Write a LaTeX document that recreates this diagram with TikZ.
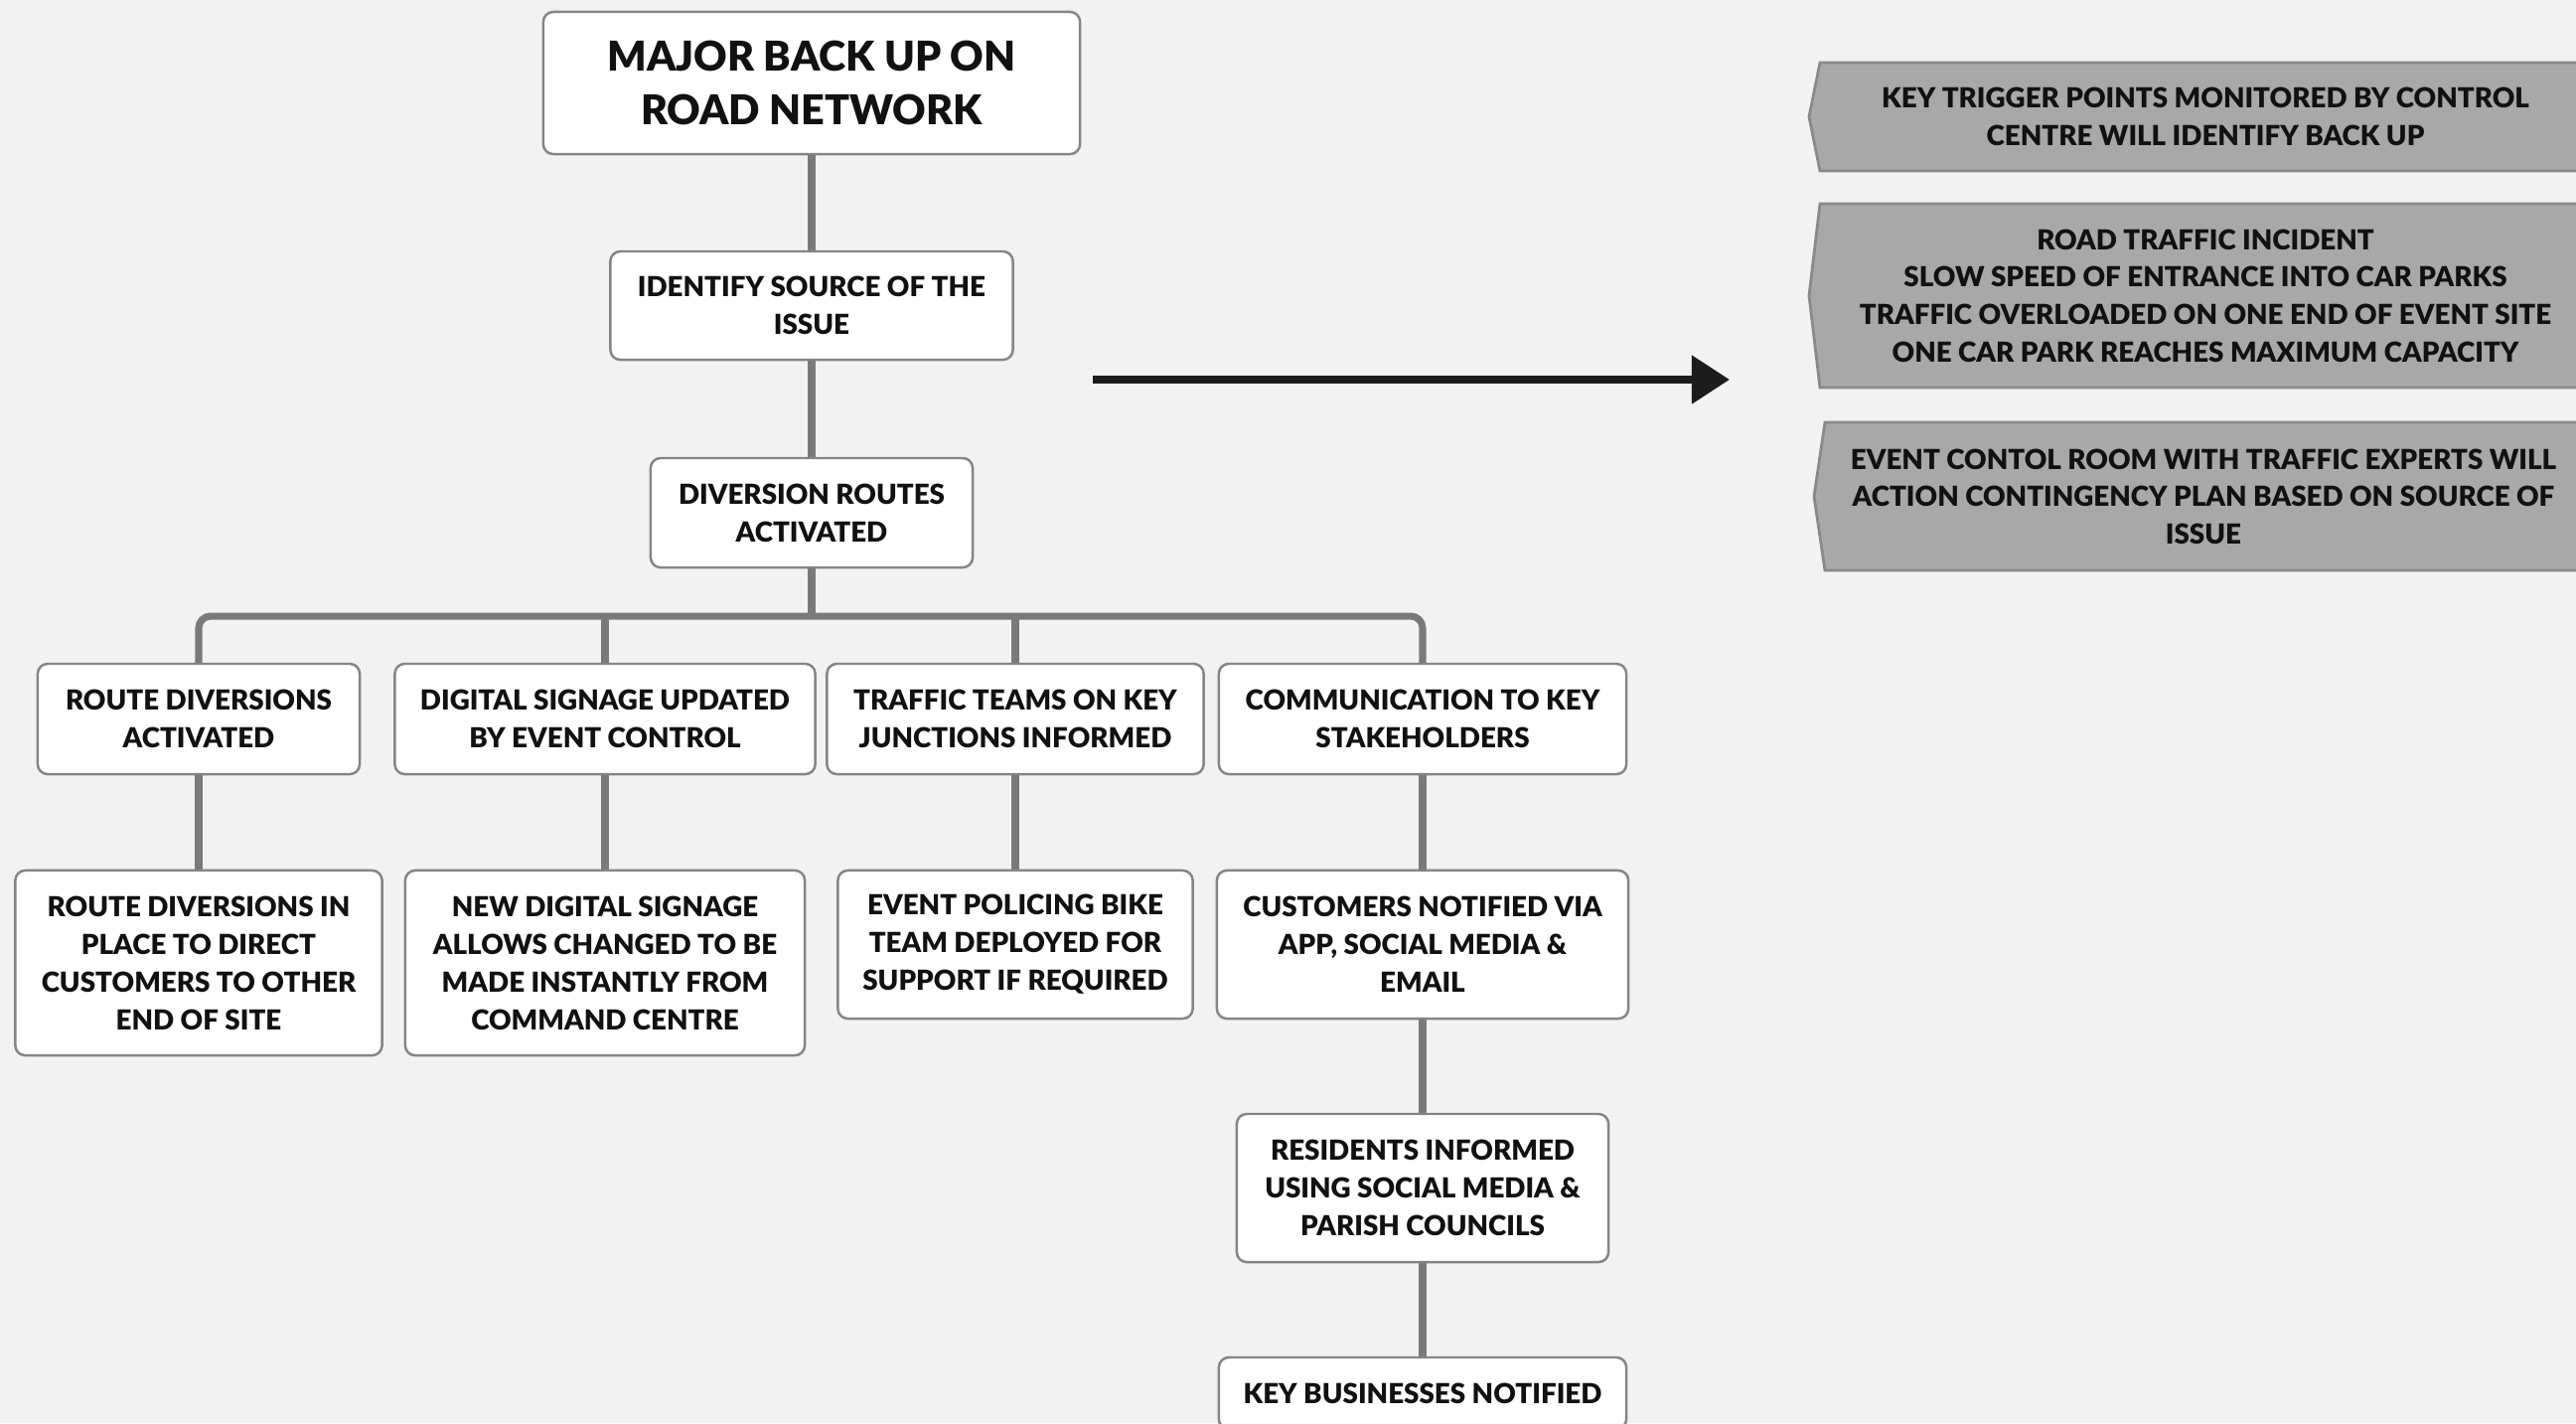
\documentclass[tikz,border=0pt]{standalone}
\usepackage{fontspec}
\setmainfont{Lato}[BoldFont={Lato Black}]
\usetikzlibrary{arrows.meta}
\definecolor{bg}{HTML}{F2F2F2}
\definecolor{boxline}{HTML}{858585}
\definecolor{connc}{HTML}{7A7A7A}
\definecolor{sigfill}{HTML}{A8A8A8}
\definecolor{sigline}{HTML}{8A8A8A}
\definecolor{arrc}{HTML}{1C1C1C}
\definecolor{txt}{HTML}{111111}
\begin{document}
\begin{tikzpicture}[x=0.01cm,y=-0.01cm,
  box/.style={draw=boxline, line width=0.7pt, fill=white, rounded corners=0.1cm,
    inner sep=0pt, align=center, text=txt,
    font=\bfseries\fontsize{7.9}{10.8}\selectfont},
  titlebox/.style={box, font=\bfseries\fontsize{11.75}{15.6}\selectfont},
  conn/.style={draw=connc, line width=2pt},
  sig/.style={draw=sigline, line width=0.8pt, fill=sigfill},
  sigtext/.style={inner sep=0pt, align=center, text=txt,
    font=\bfseries\fontsize{7.9}{10.7}\selectfont},
  arr/.style={draw=arrc, line width=2.3pt, -{Triangle[length=0.38cm,width=0.47cm]}}
]
\useasboundingbox (0,0) rectangle (2593,1432);
\fill[bg] (0,0) rectangle (2593,1432);
\clip (0,0) rectangle (2593,1432);

% main column
\node[titlebox, minimum width=5.40cm, minimum height=1.43cm] (top) at (817,83.5) {MAJOR BACK UP ON\\ROAD NETWORK};
\node[box, minimum width=4.05cm, minimum height=1.09cm] (ident) at (817,307.5) {IDENTIFY SOURCE OF THE\\ISSUE};
\node[box, minimum width=3.24cm, minimum height=1.10cm] (div) at (817,516) {DIVERSION ROUTES\\ACTIVATED};

% level 2
\node[box, minimum width=3.24cm, minimum height=1.11cm] (ra) at (200,723.5) {ROUTE DIVERSIONS\\ACTIVATED};
\node[box, minimum width=4.23cm, minimum height=1.11cm] (ds) at (609,723.5) {DIGITAL SIGNAGE UPDATED\\BY EVENT CONTROL};
\node[box, minimum width=3.79cm, minimum height=1.11cm] (tt) at (1022,723.5) {TRAFFIC TEAMS ON KEY\\JUNCTIONS INFORMED};
\node[box, minimum width=4.10cm, minimum height=1.11cm] (cs) at (1432,723.5) {COMMUNICATION TO KEY\\STAKEHOLDERS};

% level 3
\node[box, minimum width=3.69cm, minimum height=1.86cm] (rp) at (200,969) {ROUTE DIVERSIONS IN\\PLACE TO DIRECT\\CUSTOMERS TO OTHER\\END OF SITE};
\node[box, minimum width=4.02cm, minimum height=1.86cm] (nd) at (609,969) {NEW DIGITAL SIGNAGE\\ALLOWS CHANGED TO BE\\MADE INSTANTLY FROM\\COMMAND CENTRE};
\node[box, minimum width=3.57cm, minimum height=1.49cm] (ep) at (1022,950.5) {EVENT POLICING BIKE\\TEAM DEPLOYED FOR\\SUPPORT IF REQUIRED};
\node[box, minimum width=4.14cm, minimum height=1.49cm] (cn) at (1432,950.5) {CUSTOMERS NOTIFIED VIA\\APP, SOCIAL MEDIA \&\\EMAIL};
\node[box, minimum width=3.74cm, minimum height=1.49cm] (ri) at (1432,1195.5) {RESIDENTS INFORMED\\USING SOCIAL MEDIA \&\\PARISH COUNCILS};
\node[box, minimum width=4.10cm, minimum height=0.72cm] (kb) at (1432,1402) {KEY BUSINESSES NOTIFIED};

% connectors
\coordinate (bus) at (817,620);
\draw[conn] (top.south) -- (ident.north);
\draw[conn] (ident.south) -- (div.north);
\draw[conn] (div.south) -- (bus);
\draw[conn, rounded corners=0.12cm] (ra.north) |- (bus) -| (cs.north);
\draw[conn] (ds.north) -- (ds.north |- bus);
\draw[conn] (tt.north) -- (tt.north |- bus);
\draw[conn] (ra.south) -- (rp.north);
\draw[conn] (ds.south) -- (nd.north);
\draw[conn] (tt.south) -- (ep.north);
\draw[conn] (cs.south) -- (cn.north);
\draw[conn] (cn.south) -- (ri.north);
\draw[conn] (ri.south) -- (kb.north);

% arrow
\coordinate (aS) at (1100,382);
\coordinate (aE) at (1741,382);
\draw[arr] (aS) -- (aE);

% right grey panels
\draw[sig] (1832,63) -- (2620,63) -- (2620,172) -- (1832,172) -- (1821,117.5) -- cycle;
\node[sigtext] (s1) at (2220,117.5) {KEY TRIGGER POINTS MONITORED BY CONTROL\\CENTRE WILL IDENTIFY BACK UP};
\draw[sig] (1832,205) -- (2620,205) -- (2620,390) -- (1832,390) -- (1821,297.5) -- cycle;
\node[sigtext] (s2) at (2220,297.5) {ROAD TRAFFIC INCIDENT\\SLOW SPEED OF ENTRANCE INTO CAR PARKS\\TRAFFIC OVERLOADED ON ONE END OF EVENT SITE\\ONE CAR PARK REACHES MAXIMUM CAPACITY};
\draw[sig] (1837,425) -- (2620,425) -- (2620,574) -- (1837,574) -- (1826,499.5) -- cycle;
\node[sigtext] (s3) at (2218,499.5) {EVENT CONTOL ROOM WITH TRAFFIC EXPERTS WILL\\ACTION CONTINGENCY PLAN BASED ON SOURCE OF\\ISSUE};
\end{tikzpicture}
\end{document}
